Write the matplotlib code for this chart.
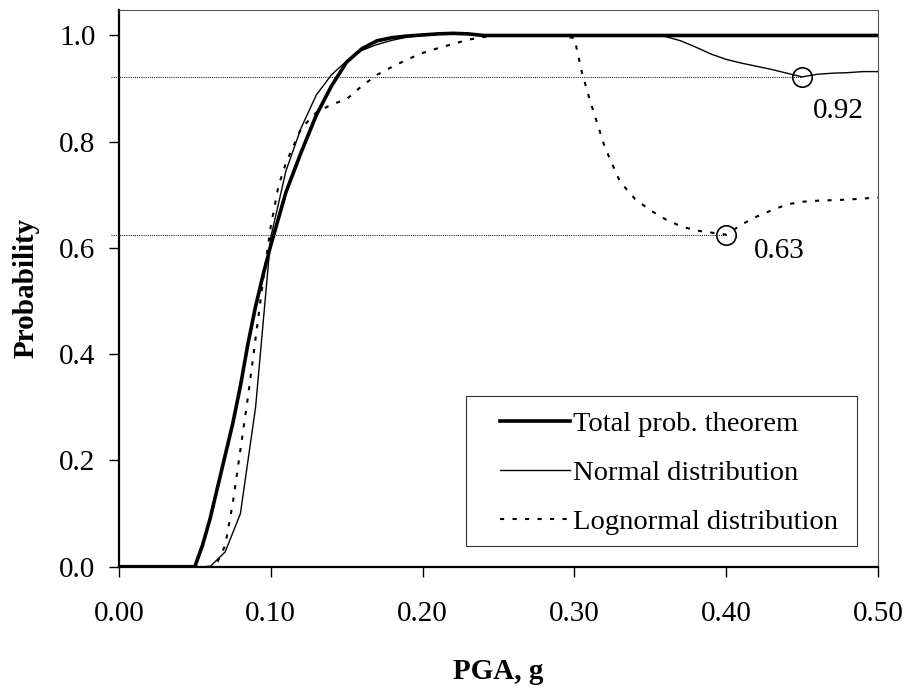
import matplotlib
matplotlib.use("Agg")
import matplotlib.pyplot as plt
from matplotlib.patches import Rectangle

plt.rcParams['font.family'] = ['Liberation Serif', 'DejaVu Serif']
plt.rcParams['font.size'] = 21

# PGA (g) and probabilities
pga_total = [0.0, 0.05, 0.055, 0.06, 0.065, 0.07, 0.075, 0.08, 0.085, 0.09, 0.095,
             0.10, 0.11, 0.12, 0.13, 0.14, 0.15, 0.16, 0.17, 0.18, 0.19, 0.20,
             0.21, 0.22, 0.23, 0.24, 0.50]
p_total = [0.0, 0.0, 0.04, 0.09, 0.15, 0.21, 0.27, 0.34, 0.42, 0.49, 0.55,
           0.605, 0.705, 0.78, 0.85, 0.905, 0.95, 0.975, 0.99, 0.996, 0.999, 1.001,
           1.003, 1.004, 1.003, 1.0, 1.0]

pga_normal = [0.0, 0.06, 0.07, 0.08, 0.09, 0.10, 0.11, 0.12, 0.13, 0.14, 0.15,
              0.16, 0.17, 0.18, 0.19, 0.20, 0.21, 0.22, 0.23, 0.24, 0.35, 0.36,
              0.37, 0.38, 0.39, 0.40, 0.41, 0.42, 0.43, 0.44, 0.45, 0.46, 0.47,
              0.48, 0.49, 0.50]
p_normal = [0.0, 0.0, 0.028, 0.10, 0.30, 0.62, 0.745, 0.826, 0.888, 0.926, 0.952,
            0.972, 0.983, 0.991, 0.997, 1.0, 1.002, 1.003, 1.002, 1.0, 1.0, 0.998,
            0.99, 0.978, 0.965, 0.955, 0.948, 0.942, 0.936, 0.929, 0.922, 0.927, 0.929,
            0.930, 0.932, 0.932]

pga_logn = [0.0, 0.06, 0.065, 0.07, 0.075, 0.08, 0.085, 0.09, 0.095, 0.10, 0.105,
            0.11, 0.12, 0.13, 0.14, 0.15, 0.16, 0.17, 0.18, 0.19, 0.20, 0.21,
            0.22, 0.23, 0.24, 0.25, 0.29, 0.30, 0.305, 0.31, 0.32, 0.33, 0.34,
            0.35, 0.36, 0.37, 0.38, 0.39, 0.40, 0.41, 0.42, 0.43, 0.44, 0.45,
            0.46, 0.47, 0.48, 0.49, 0.50]
p_logn = [0.0, 0.0, 0.01, 0.04, 0.12, 0.22, 0.32, 0.43, 0.54, 0.64, 0.716,
          0.76, 0.825, 0.855, 0.87, 0.88, 0.905, 0.926, 0.941, 0.955, 0.967, 0.976,
          0.984, 0.992, 0.997, 1.0, 1.0, 0.995, 0.93, 0.88, 0.79, 0.725, 0.692,
          0.671, 0.654, 0.641, 0.633, 0.629, 0.625, 0.644, 0.659, 0.671, 0.682, 0.687,
          0.689, 0.69, 0.691, 0.693, 0.695]

# marked minima
mark_x = [0.45, 0.40]
mark_y = [0.922, 0.625]
mark_txt = ['0.92', '0.63']

fig = plt.figure(figsize=(9.08, 6.88), dpi=100)
ax = fig.add_axes([0.131, 0.1763, 0.836, 0.8092])

# reference lines
for mx, my in zip(mark_x, mark_y):
    ax.plot([-0.0055, mx], [my, my], color='black', lw=0.7,
            linestyle=(0, (1, 1.2)), clip_on=False, zorder=1)

ax.plot(pga_total, p_total, color='black', lw=2.6, label='Total prob. theorem', zorder=3)
ax.plot(pga_normal, p_normal, color='black', lw=1.0, label='Normal distribution', zorder=3)
ax.plot(pga_logn, p_logn, color='black', lw=1.5, linestyle=(0, (2, 4)),
        label='Lognormal distribution', zorder=3)

ax.plot(mark_x, mark_y, 'o', ms=14, mfc='none', mec='black', mew=1.2, zorder=4)
ax.text(0.457, 0.845, mark_txt[0], ha='left', va='baseline')
ax.text(0.4185, 0.581, mark_txt[1], ha='left', va='baseline')

ax.set_xlim(0, 0.5)
ax.set_ylim(0, 1.048)
ax.set_xticks([0.0, 0.1, 0.2, 0.3, 0.4, 0.5])
ax.set_xticklabels(['0.00', '0.10', '0.20', '0.30', '0.40', '0.50'])
ax.set_yticks([0.0, 0.2, 0.4, 0.6, 0.8, 1.0])
ax.set_yticklabels(['0.0', '0.2', '0.4', '0.6', '0.8', '1.0'])
ax.tick_params(axis='x', direction='out', length=7, width=1, pad=18)
ax.tick_params(axis='y', direction='out', length=7, width=1, pad=10)

for s in ['left', 'bottom']:
    ax.spines[s].set_linewidth(1.6)
for s in ['top', 'right']:
    ax.spines[s].set_linewidth(0.8)
    ax.spines[s].set_color('#555555')

ax.set_xlabel('PGA, g', fontweight='bold', labelpad=22)
ax.set_ylabel('Probability', fontweight='bold', labelpad=14)

# legend box drawn separately (Excel style, wide left margin)
ax.add_patch(Rectangle((0.457, 0.0372), 0.515, 0.2694, transform=ax.transAxes,
                       fill=True, facecolor='white', edgecolor='#333333',
                       lw=0.8, zorder=5))
leg = ax.legend(loc='upper left', bbox_to_anchor=(0.502, 0.280), frameon=False,
                fontsize=20.5, handlelength=2.45, handletextpad=0.12,
                labelspacing=0.82, borderpad=0, borderaxespad=0)
leg.set_zorder(6)

fig.savefig('out.png', dpi=100)
